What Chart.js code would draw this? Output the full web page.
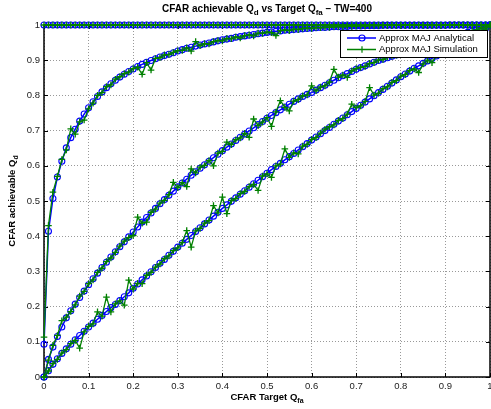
<!DOCTYPE html>
<html>
<head>
<meta charset="utf-8">
<script src="https://cdn.jsdelivr.net/npm/chart.js@4"></script>
<style>
  html, body { margin: 0; padding: 0; background: #fff; }
</style>
</head>
<body>
<canvas id="cfarChart" width="491" height="409"></canvas>
<script>
// Target Qfa values (x axis)
const qfa = [
  0,
  0.01, 0.02, 0.03, 0.04, 0.05, 0.06, 0.07, 0.08, 0.09, 0.10,
  0.11, 0.12, 0.13, 0.14, 0.15, 0.16, 0.17, 0.18, 0.19, 0.20,
  0.21, 0.22, 0.23, 0.24, 0.25, 0.26, 0.27, 0.28, 0.29, 0.30,
  0.31, 0.32, 0.33, 0.34, 0.35, 0.36, 0.37, 0.38, 0.39, 0.40,
  0.41, 0.42, 0.43, 0.44, 0.45, 0.46, 0.47, 0.48, 0.49, 0.50,
  0.51, 0.52, 0.53, 0.54, 0.55, 0.56, 0.57, 0.58, 0.59, 0.60,
  0.61, 0.62, 0.63, 0.64, 0.65, 0.66, 0.67, 0.68, 0.69, 0.70,
  0.71, 0.72, 0.73, 0.74, 0.75, 0.76, 0.77, 0.78, 0.79, 0.80,
  0.81, 0.82, 0.83, 0.84, 0.85, 0.86, 0.87, 0.88, 0.89, 0.90,
  0.91, 0.92, 0.93, 0.94, 0.95, 0.96, 0.97, 0.98, 0.99, 1.00
];

// achievable Qd - analytical (blue circles)
const anaTop = [
  1,
  1, 1, 1, 1, 1, 1, 1, 1, 1, 1,
  1, 1, 1, 1, 1, 1, 1, 1, 1, 1,
  1, 1, 1, 1, 1, 1, 1, 1, 1, 1,
  1, 1, 1, 1, 1, 1, 1, 1, 1, 1,
  1, 1, 1, 1, 1, 1, 1, 1, 1, 1,
  1, 1, 1, 1, 1, 1, 1, 1, 1, 1,
  1, 1, 1, 1, 1, 1, 1, 1, 1, 1,
  1, 1, 1, 1, 1, 1, 1, 1, 1, 1,
  1, 1, 1, 1, 1, 1, 1, 1, 1, 1,
  1, 1, 1, 1, 1, 1, 1, 1, 1, 1
];
const anaHigh = [
  0.093,
  0.414, 0.507, 0.568, 0.613, 0.651, 0.680, 0.704, 0.727, 0.747, 0.765,
  0.782, 0.797, 0.810, 0.822, 0.833, 0.843, 0.852, 0.860, 0.868, 0.875,
  0.882, 0.888, 0.894, 0.899, 0.904, 0.909, 0.913, 0.917, 0.921, 0.926,
  0.930, 0.934, 0.937, 0.940, 0.943, 0.946, 0.949, 0.952, 0.955, 0.958,
  0.960, 0.962, 0.965, 0.967, 0.969, 0.971, 0.973, 0.975, 0.977, 0.979,
  0.980, 0.982, 0.983, 0.985, 0.986, 0.987, 0.988, 0.989, 0.990, 0.991,
  0.992, 0.993, 0.993, 0.994, 0.995, 0.995, 0.996, 0.996, 0.997, 0.997,
  0.997, 0.998, 0.998, 0.998, 0.998, 0.999, 0.999, 0.999, 0.999, 0.999,
  0.999, 0.999, 0.999, 0.999, 0.999, 0.999, 0.999, 0.999, 0.999, 0.999,
  1, 1, 1, 1, 1, 1, 1, 1, 1, 1
];
const anaMid = [
  0.000,
  0.050, 0.085, 0.115, 0.142, 0.168, 0.188, 0.207, 0.226, 0.244, 0.262,
  0.279, 0.295, 0.311, 0.326, 0.341, 0.356, 0.370, 0.384, 0.398, 0.412,
  0.426, 0.440, 0.453, 0.466, 0.479, 0.492, 0.504, 0.516, 0.528, 0.540,
  0.551, 0.562, 0.573, 0.583, 0.593, 0.603, 0.613, 0.623, 0.633, 0.643,
  0.653, 0.662, 0.672, 0.681, 0.690, 0.699, 0.708, 0.717, 0.726, 0.735,
  0.743, 0.751, 0.759, 0.767, 0.775, 0.783, 0.790, 0.797, 0.803, 0.808,
  0.815, 0.822, 0.829, 0.836, 0.843, 0.850, 0.856, 0.862, 0.868, 0.874,
  0.879, 0.884, 0.889, 0.894, 0.899, 0.903, 0.907, 0.911, 0.915, 0.919,
  0.923, 0.927, 0.931, 0.935, 0.939, 0.943, 0.947, 0.951, 0.955, 0.959,
  0.963, 0.967, 0.971, 0.975, 0.979, 0.983, 0.987, 0.991, 0.995, 1.000
];
const anaLow = [
  0.000,
  0.018, 0.036, 0.052, 0.067, 0.080, 0.093, 0.106, 0.118, 0.130, 0.142,
  0.153, 0.164, 0.175, 0.186, 0.197, 0.206, 0.217, 0.228, 0.239, 0.252,
  0.264, 0.276, 0.287, 0.299, 0.311, 0.323, 0.334, 0.346, 0.357, 0.369,
  0.380, 0.391, 0.402, 0.413, 0.424, 0.435, 0.446, 0.457, 0.468, 0.479,
  0.489, 0.499, 0.509, 0.519, 0.529, 0.539, 0.549, 0.559, 0.569, 0.579,
  0.589, 0.598, 0.607, 0.617, 0.626, 0.635, 0.645, 0.654, 0.663, 0.673,
  0.682, 0.691, 0.700, 0.709, 0.718, 0.727, 0.736, 0.745, 0.754, 0.763,
  0.772, 0.781, 0.790, 0.799, 0.808, 0.817, 0.826, 0.835, 0.844, 0.853,
  0.861, 0.869, 0.877, 0.884, 0.891, 0.898, 0.905, 0.912, 0.919, 0.926,
  0.933, 0.940, 0.947, 0.954, 0.961, 0.968, 0.975, 0.982, 0.990, 1.000
];

// achievable Qd - simulation (green plus)
const simTop = [
  1,
  1, 1, 1, 1, 1, 1, 1, 1, 1, 1,
  1, 1, 1, 1, 1, 1, 1, 1, 1, 1,
  1, 1, 1, 1, 1, 1, 1, 1, 1, 1,
  1, 1, 1, 1, 1, 1, 1, 1, 1, 1,
  1, 1, 1, 1, 1, 1, 1, 1, 1, 1,
  1, 1, 1, 1, 1, 1, 1, 1, 1, 1,
  1, 1, 1, 1, 1, 1, 1, 1, 1, 1,
  1, 1, 1, 1, 1, 1, 1, 1, 1, 1,
  1, 1, 1, 1, 1, 1, 1, 1, 1, 1,
  1, 1, 1, 1, 1, 1, 1, 1, 1, 1
];
const simHigh = [
  0.113,
  0.430, 0.525, 0.570, 0.618, 0.645, 0.705, 0.690, 0.725, 0.730, 0.762,
  0.778, 0.800, 0.808, 0.825, 0.830, 0.846, 0.853, 0.862, 0.866, 0.876,
  0.880, 0.860, 0.893, 0.872, 0.905, 0.907, 0.915, 0.916, 0.922, 0.927,
  0.928, 0.935, 0.926, 0.953, 0.941, 0.947, 0.946, 0.953, 0.956, 0.955,
  0.962, 0.961, 0.966, 0.963, 0.970, 0.972, 0.969, 0.977, 0.976, 0.980,
  0.978, 0.970, 0.984, 0.986, 0.984, 0.988, 0.987, 0.990, 0.991, 0.990,
  0.993, 0.992, 0.994, 0.993, 0.995, 0.996, 0.995, 0.997, 0.996, 0.997,
  0.998, 0.997, 0.998, 0.999, 0.998, 0.999, 0.999, 0.999, 0.999, 0.999,
  0.999, 0.999, 0.999, 0.999, 0.999, 0.999, 0.999, 0.999, 0.999, 0.999,
  1, 1, 1, 1, 1, 1, 1, 1, 1, 1
];
const simMid = [
  0.000,
  0.048, 0.090, 0.118, 0.160, 0.170, 0.186, 0.205, 0.230, 0.243, 0.265,
  0.276, 0.297, 0.309, 0.328, 0.338, 0.354, 0.372, 0.386, 0.396, 0.402,
  0.454, 0.437, 0.440, 0.468, 0.477, 0.494, 0.502, 0.518, 0.553, 0.538,
  0.552, 0.541, 0.591, 0.580, 0.596, 0.601, 0.615, 0.600, 0.636, 0.641,
  0.667, 0.660, 0.674, 0.679, 0.692, 0.681, 0.733, 0.714, 0.724, 0.737,
  0.712, 0.753, 0.785, 0.766, 0.756, 0.784, 0.788, 0.799, 0.801, 0.827,
  0.813, 0.824, 0.827, 0.838, 0.874, 0.852, 0.858, 0.851, 0.870, 0.876,
  0.880, 0.882, 0.891, 0.893, 0.901, 0.902, 0.909, 0.912, 0.914, 0.920,
  0.922, 0.928, 0.930, 0.936, 0.938, 0.944, 0.946, 0.952, 0.954, 0.960,
  0.962, 0.968, 0.970, 0.976, 0.978, 0.984, 0.986, 0.992, 0.994, 1.000
];
const simLow = [
  0.000,
  0.017, 0.038, 0.050, 0.068, 0.078, 0.095, 0.104, 0.082, 0.128, 0.144,
  0.151, 0.185, 0.173, 0.227, 0.185, 0.208, 0.216, 0.204, 0.275, 0.250,
  0.266, 0.265, 0.289, 0.297, 0.312, 0.321, 0.336, 0.344, 0.359, 0.367,
  0.382, 0.416, 0.369, 0.415, 0.422, 0.437, 0.444, 0.487, 0.466, 0.511,
  0.464, 0.501, 0.507, 0.521, 0.527, 0.541, 0.547, 0.530, 0.571, 0.577,
  0.567, 0.600, 0.605, 0.648, 0.624, 0.637, 0.634, 0.656, 0.661, 0.675,
  0.680, 0.693, 0.704, 0.711, 0.716, 0.729, 0.734, 0.747, 0.775, 0.765,
  0.770, 0.783, 0.822, 0.801, 0.806, 0.819, 0.824, 0.837, 0.842, 0.855,
  0.859, 0.871, 0.875, 0.865, 0.889, 0.900, 0.893, 0.914, 0.917, 0.928,
  0.931, 0.942, 0.945, 0.956, 0.959, 0.970, 0.973, 0.984, 0.988, 1.000
];

const axisTicks = [0, 0.1, 0.2, 0.3, 0.4, 0.5, 0.6, 0.7, 0.8, 0.9, 1];
const seriesNames = ["Approx MAJ Analytical", "Approx MAJ Simulation"];

const BLUE = "#0000ff";
const GREEN = "#008000";
const FONT = "'Liberation Sans', Arial, Helvetica, sans-serif";

function analytical(ys) {
  return {
    data: qfa.map((x, i) => ({ x: x, y: ys[i] })),
    borderColor: BLUE,
    borderWidth: 1.5,
    pointStyle: "circle",
    pointRadius: 3,
    pointBorderWidth: 1.1,
    pointBorderColor: BLUE,
    pointBackgroundColor: "rgba(0,0,0,0)",
    tension: 0,
    clip: false,
    order: 2,
  };
}

function simulation(ys) {
  return {
    data: qfa.map((x, i) => ({ x: x, y: ys[i] })),
    borderColor: GREEN,
    borderWidth: 1.3,
    pointStyle: "cross",
    pointRadius: 3.3,
    pointBorderWidth: 1.3,
    pointBorderColor: GREEN,
    tension: 0,
    clip: false,
    order: 1,
  };
}

// draws text with subscripts, parts = [[text, isSub], ...]
function richText(ctx, parts, x, y, size, bold) {
  const w = bold ? "bold " : "";
  const subSize = Math.round(size * 0.75);
  let total = 0;
  parts.forEach(([t, sub]) => {
    ctx.font = w + (sub ? subSize : size) + "px " + FONT;
    total += ctx.measureText(t).width;
  });
  let cx = x - total / 2;
  ctx.textAlign = "left";
  ctx.textBaseline = "middle";
  parts.forEach(([t, sub]) => {
    ctx.font = w + (sub ? subSize : size) + "px " + FONT;
    ctx.fillText(t, cx, sub ? y + size * 0.4 : y);
    cx += ctx.measureText(t).width;
  });
}

function tickText(v) {
  return String(Number(v.toFixed(1)));
}

// matlab style frame, inner ticks, legend and labels
const matlabLook = {
  id: "matlabLook",
  beforeDatasetsDraw(chart) {
    const { ctx, chartArea: a, scales } = chart;
    ctx.save();
    ctx.strokeStyle = "#000";
    ctx.lineWidth = 1;
    ctx.beginPath();
    axisTicks.forEach((v) => {
      const px = Math.round(scales.x.getPixelForValue(v)) + 0.5;
      ctx.moveTo(px, a.bottom);
      ctx.lineTo(px, a.bottom - 4);
      ctx.moveTo(px, a.top);
      ctx.lineTo(px, a.top + 4);
      const py = Math.round(scales.y.getPixelForValue(v)) + 0.5;
      ctx.moveTo(a.left, py);
      ctx.lineTo(a.left + 4, py);
      ctx.moveTo(a.right, py);
      ctx.lineTo(a.right - 4, py);
    });
    ctx.stroke();
    ctx.lineWidth = 1.5;
    ctx.strokeRect(a.left, a.top, a.right - a.left, a.bottom - a.top);
    ctx.restore();
  },
  afterDraw(chart) {
    const { ctx, chartArea: a } = chart;
    ctx.save();
    ctx.fillStyle = "#000";

    // title
    richText(ctx, [["CFAR achievable Q", false], ["d", true], [" vs Target Q", false], ["fa", true], [" \u2013 TW=400", false]],
      (a.left + a.right) / 2, 9, 10, true);
    // x label
    richText(ctx, [["CFAR Target Q", false], ["fa", true]], (a.left + a.right) / 2, 397, 9.5, true);
    // y label
    ctx.save();
    ctx.translate(12, (a.top + a.bottom) / 2);
    ctx.rotate(-Math.PI / 2);
    richText(ctx, [["CFAR achievable Q", false], ["d", true]], 0, 0, 9.5, true);
    ctx.restore();

    // legend box
    const bx = a.right - 150, by = a.top + 5, bw = 147, bh = 27;
    ctx.fillStyle = "#fff";
    ctx.fillRect(bx, by, bw, bh);
    ctx.strokeStyle = "#000";
    ctx.lineWidth = 1;
    ctx.strokeRect(bx + 0.5, by + 0.5, bw, bh);
    const rows = [
      { color: BLUE, marker: "circle", y: by + 8 },
      { color: GREEN, marker: "cross", y: by + 19.5 },
    ];
    rows.forEach((r, i) => {
      ctx.strokeStyle = r.color;
      ctx.lineWidth = 1.5;
      ctx.beginPath();
      ctx.moveTo(bx + 7, r.y);
      ctx.lineTo(bx + 36, r.y);
      ctx.stroke();
      ctx.lineWidth = 1.2;
      ctx.beginPath();
      if (r.marker === "circle") {
        ctx.arc(bx + 22, r.y, 3, 0, Math.PI * 2);
      } else {
        ctx.moveTo(bx + 22 - 3.3, r.y);
        ctx.lineTo(bx + 22 + 3.3, r.y);
        ctx.moveTo(bx + 22, r.y - 3.3);
        ctx.lineTo(bx + 22, r.y + 3.3);
      }
      ctx.stroke();
      ctx.fillStyle = "#000";
      ctx.font = "9.5px " + FONT;
      ctx.textAlign = "left";
      ctx.textBaseline = "middle";
      ctx.fillText(seriesNames[i], bx + 39, r.y);
    });
    ctx.restore();
  },
};

const tickFont = { family: FONT, size: 9.5 };

new Chart(document.getElementById("cfarChart").getContext("2d"), {
  type: "line",
  data: {
    datasets: [
      analytical(anaTop), analytical(anaHigh), analytical(anaMid), analytical(anaLow),
      simulation(simTop), simulation(simHigh), simulation(simMid), simulation(simLow),
    ],
  },
  options: {
    responsive: false,
    animation: false,
    devicePixelRatio: 1,
    layout: { autoPadding: false, padding: { top: 25, right: 1, left: 0, bottom: 0 } },
    plugins: {
      legend: { display: false },
      title: { display: false },
      tooltip: { enabled: false },
    },
    scales: {
      x: {
        type: "linear",
        min: 0,
        max: 1,
        afterBuildTicks: (s) => { s.ticks = axisTicks.map((v) => ({ value: v })); },
        afterFit: (s) => { s.height = 32; s.paddingLeft = 0; s.paddingRight = 0; },
        ticks: { color: "#222", font: tickFont, padding: 4, maxRotation: 0, callback: tickText },
        grid: { color: "#999", lineWidth: 1, drawTicks: false },
        border: { display: false, dash: [1, 2] },
      },
      y: {
        type: "linear",
        min: 0,
        max: 1,
        afterBuildTicks: (s) => { s.ticks = axisTicks.map((v) => ({ value: v })); },
        afterFit: (s) => { s.width = 44; s.paddingTop = 0; s.paddingBottom = 0; },
        ticks: { color: "#222", font: tickFont, padding: 4, callback: tickText },
        grid: { color: "#999", lineWidth: 1, drawTicks: false },
        border: { display: false, dash: [1, 2] },
      },
    },
  },
  plugins: [matlabLook],
});
</script>
</body>
</html>
